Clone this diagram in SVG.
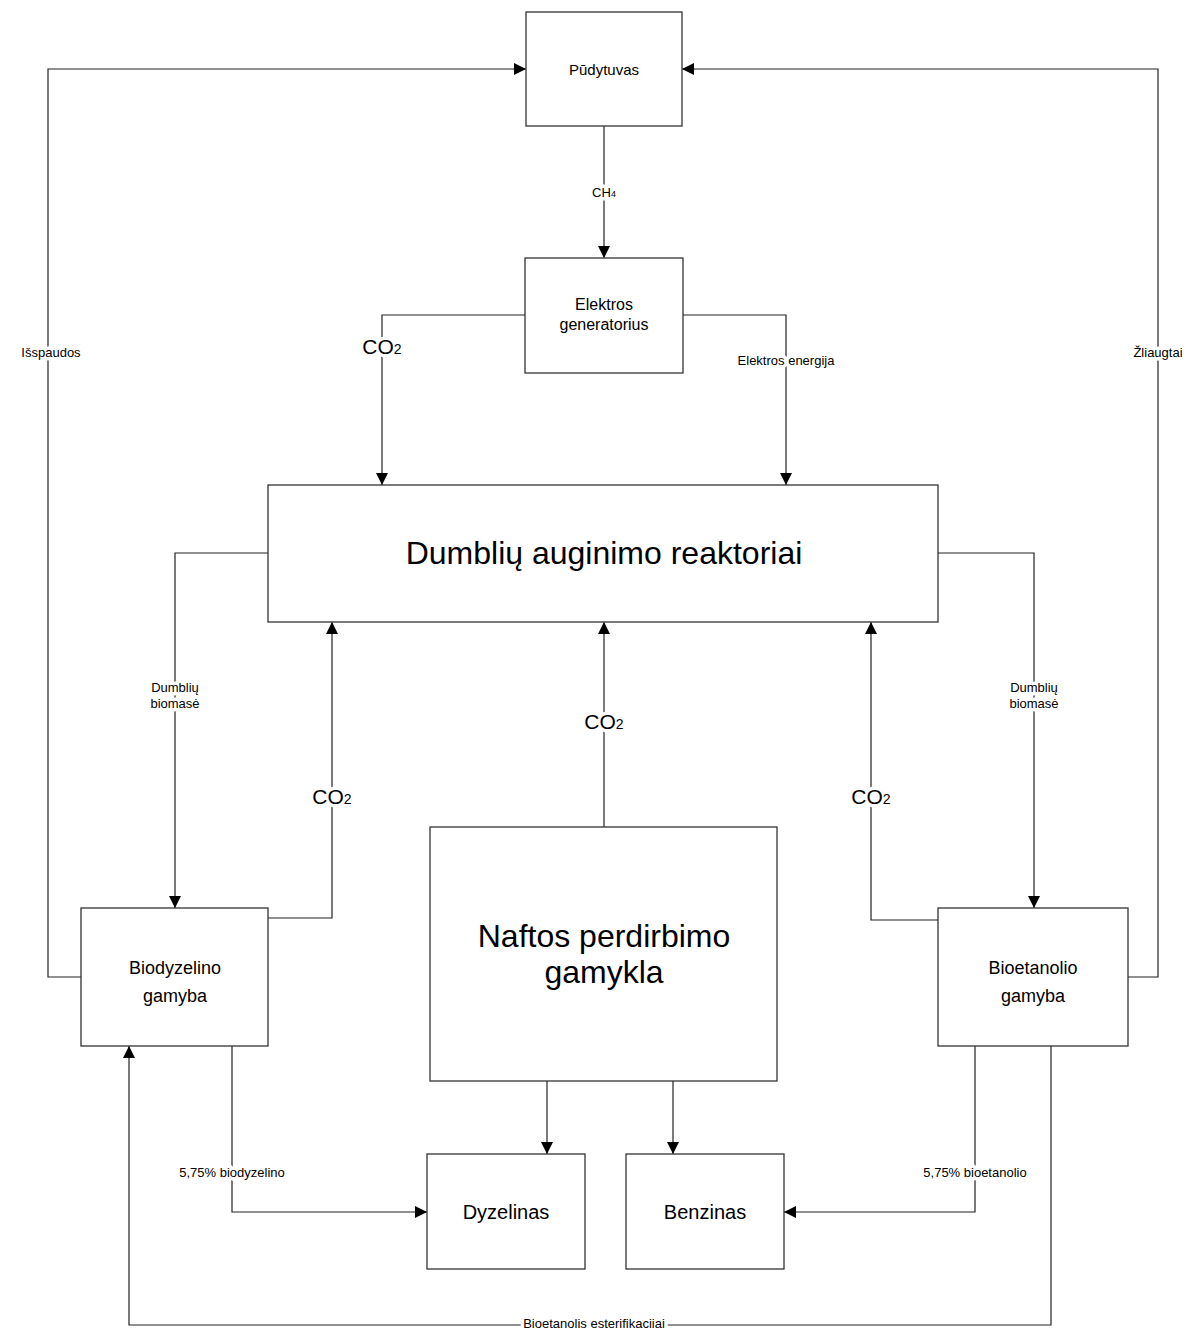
<svg xmlns="http://www.w3.org/2000/svg" width="1194" height="1328" viewBox="0 0 1194 1328">
<style>
.box{fill:#fff;stroke:#333;stroke-width:1.3}
.ln{fill:none;stroke:#222;stroke-width:1.2}
text{font-family:"Liberation Sans",Arial,sans-serif;text-anchor:middle}
.lbl{font-size:13px}
.co{font-size:21px}
.halo{fill:#fff;stroke:#fff;stroke-width:7;stroke-linejoin:round}
.ink{fill:#000}
</style>
<defs>
<marker id="ah" viewBox="0 0 10 10" refX="10" refY="5" markerWidth="12" markerHeight="12" markerUnits="userSpaceOnUse" orient="auto">
<path d="M0,0 L10,5 L0,10 z" fill="#000"/>
</marker>
<g id="labels">
<text class="lbl" x="604" y="197">CH<tspan font-size="9px">4</tspan></text>
<text class="co" x="382" y="354">CO<tspan font-size="14px">2</tspan></text>
<text class="lbl" x="786" y="365">Elektros energija</text>
<text class="lbl" x="51" y="357">Išspaudos</text>
<text class="lbl" x="1158" y="357">Žliaugtai</text>
<text class="lbl" x="175" y="692">Dumblių</text>
<text class="lbl" x="175" y="708">biomasė</text>
<text class="lbl" x="1034" y="692">Dumblių</text>
<text class="lbl" x="1034" y="708">biomasė</text>
<text class="co" x="332" y="804">CO<tspan font-size="14px">2</tspan></text>
<text class="co" x="604" y="729">CO<tspan font-size="14px">2</tspan></text>
<text class="co" x="871" y="804">CO<tspan font-size="14px">2</tspan></text>
<text class="lbl" x="232" y="1177">5,75% biodyzelino</text>
<text class="lbl" x="975" y="1177">5,75% bioetanolio</text>
<text class="lbl" x="594" y="1328">Bioetanolis esterifikacijai</text>
</g>
</defs>
<g id="connectors">
<path class="ln" d="M604,126 V258" marker-end="url(#ah)"/>
<path class="ln" d="M525,315 H382 V485" marker-end="url(#ah)"/>
<path class="ln" d="M683,315 H786 V485" marker-end="url(#ah)"/>
<path class="ln" d="M81,977 H48 V69 H526" marker-end="url(#ah)"/>
<path class="ln" d="M1128,977 H1158 V69 H682" marker-end="url(#ah)"/>
<path class="ln" d="M268,553 H175 V908" marker-end="url(#ah)"/>
<path class="ln" d="M268,918 H332 V622" marker-end="url(#ah)"/>
<path class="ln" d="M604,827 V622" marker-end="url(#ah)"/>
<path class="ln" d="M938,920 H871 V622" marker-end="url(#ah)"/>
<path class="ln" d="M938,553 H1034 V908" marker-end="url(#ah)"/>
<path class="ln" d="M547,1081 V1154" marker-end="url(#ah)"/>
<path class="ln" d="M673,1081 V1154" marker-end="url(#ah)"/>
<path class="ln" d="M232,1046 V1212 H427" marker-end="url(#ah)"/>
<path class="ln" d="M975,1046 V1212 H784" marker-end="url(#ah)"/>
<path class="ln" d="M1051,1046 V1325 H129 V1046" marker-end="url(#ah)"/>
<use href="#labels" class="halo"/>
<use href="#labels" class="ink"/>
</g>
<g id="pudytuvas"><rect class="box" x="526" y="12" width="156" height="114"/><text x="604" y="75" font-size="15">Pūdytuvas</text></g>
<g id="generatorius"><rect class="box" x="525" y="258" width="158" height="115"/><text x="604" y="310" font-size="16">Elektros</text><text x="604" y="330" font-size="16">generatorius</text></g>
<g id="reaktoriai"><rect class="box" x="268" y="485" width="670" height="137"/><text x="604" y="564" font-size="32">Dumblių auginimo reaktoriai</text></g>
<g id="biodyzelinas"><rect class="box" x="81" y="908" width="187" height="138"/><text x="175" y="974" font-size="18">Biodyzelino</text><text x="175" y="1002" font-size="18">gamyba</text></g>
<g id="bioetanolis"><rect class="box" x="938" y="908" width="190" height="138"/><text x="1033" y="974" font-size="18">Bioetanolio</text><text x="1033" y="1002" font-size="18">gamyba</text></g>
<g id="nafta"><rect class="box" x="430" y="827" width="347" height="254"/><text x="604" y="947" font-size="32">Naftos perdirbimo</text><text x="604" y="983" font-size="32">gamykla</text></g>
<g id="dyzelinas"><rect class="box" x="427" y="1154" width="158" height="115"/><text x="506" y="1219" font-size="20">Dyzelinas</text></g>
<g id="benzinas"><rect class="box" x="626" y="1154" width="158" height="115"/><text x="705" y="1219" font-size="20">Benzinas</text></g>
</svg>
